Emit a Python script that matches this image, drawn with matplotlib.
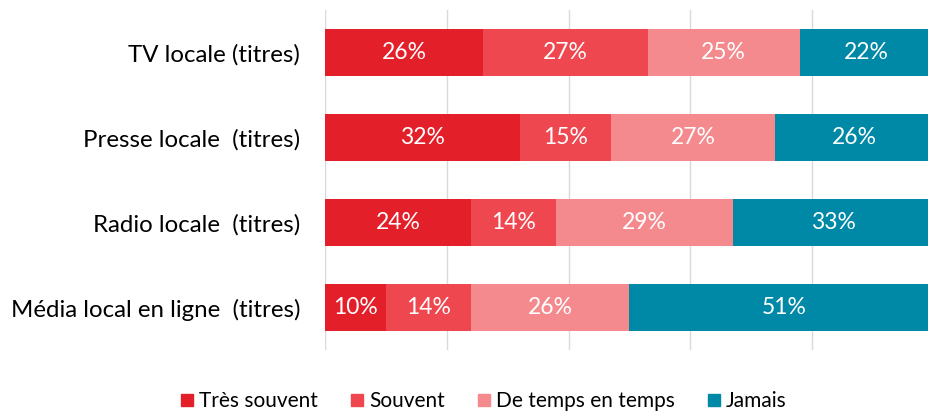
import numpy as np
import matplotlib.pyplot as plt
from matplotlib.patches import Patch

categories = ["TV locale (titres)", "Presse locale  (titres)", "Radio locale  (titres)",
              "Média local en ligne  (titres)"]
series = ["Très souvent", "Souvent", "De temps en temps", "Jamais"]
tres_souvent = [26, 32, 24, 10]
souvent = [27, 15, 14, 14]
de_temps = [25, 27, 29, 26]
jamais = [22, 26, 33, 51]
colors = ["#E3202A", "#EE4750", "#F48A8E", "#0089A6"]

plt.rcParams['font.family'] = ['Lato', 'DejaVu Sans']

fig = plt.figure(figsize=(9.29, 4.12), dpi=100)
ax = fig.add_axes([0.35, 0.15, 0.655, 0.826])

y = np.arange(len(categories))[::-1]
left = np.zeros(len(categories))
for name, vals, c in zip(series, [tres_souvent, souvent, de_temps, jamais], colors):
    vals = np.array(vals)
    ax.barh(y, vals, left=left, height=0.55, color=c, label=name, zorder=2)
    for yi, l, v in zip(y, left, vals):
        ax.text(l + v / 2, yi, f"{v}%", ha="center", va="center", color="white", fontsize=16.5, zorder=3)
    left += vals

ax.set_xlim(0, 100)
ax.set_ylim(-0.5, 3.5)
ax.set_xticks(np.arange(0, 101, 20))
ax.xaxis.grid(True, color="#D9D9D9", linewidth=1, zorder=0)
ax.tick_params(axis="x", length=0, labelbottom=False)
ax.tick_params(axis="y", length=0, labelsize=17.3, pad=18)
ax.set_yticks(y)
ax.set_yticklabels(categories)
for s in ax.spines.values():
    s.set_visible(False)

handles = [Patch(color=c, label=n) for n, c in zip(series, colors)]
fig.legend(handles=handles, loc="center", bbox_to_anchor=(0.521, 0.026), ncol=4, frameon=False,
           fontsize=15, handlelength=0.55, handleheight=0.55, handletextpad=0.3, columnspacing=1.6)

fig.savefig("out.png", dpi=100)
